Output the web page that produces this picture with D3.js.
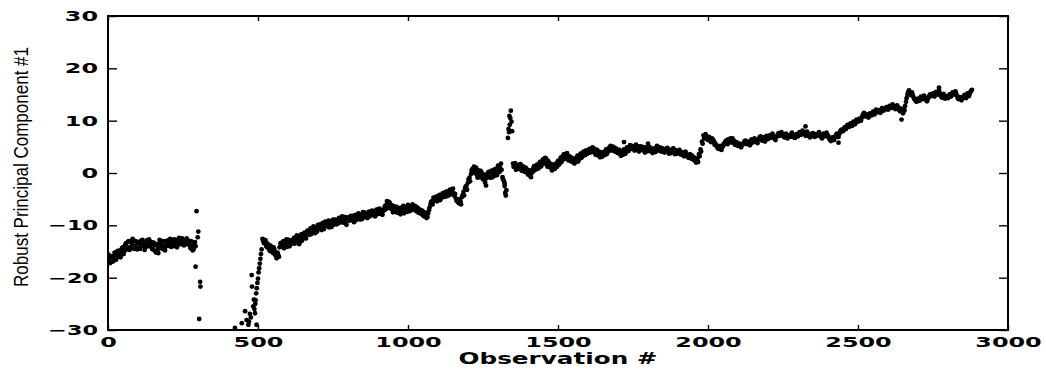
<!DOCTYPE html>
<html>
<head>
<meta charset="utf-8">
<script src="https://cdn.jsdelivr.net/npm/d3@7"></script>
<style>
  html, body { margin: 0; padding: 0; background: #fff; }
  svg { display: block; }
</style>
</head>
<body>
<script>
// observations are read every `step` along each continuous run of the band;
// a second pass is read at an offset of 2 to fill the band
const step = 5;
const segmentStarts = [0, 515, 1350];
const offsetStarts = [2, 517, 1352];

// prettier-ignore
const segmentA = [
  -16.8, -16.2, -17.0, -15.9, -16.4, -15.6, -15.2, -16.0, -14.8, -15.3,
  -14.2, -14.9, -13.4, -14.1, -13.0, -14.3, -13.6, -12.9, -14.0, -13.3,
  -14.4, -13.1, -13.8, -12.8, -13.6, -14.2, -12.9, -13.5, -14.0, -13.2,
  -14.6, -13.8, -15.2, -14.0, -13.5, -14.3, -13.0, -13.9, -14.8, -13.4,
  -12.9, -13.7, -14.1, -13.2, -12.7, -13.6, -14.2, -13.0, -12.6, -13.4,
  -12.9, -13.8, -13.1, -12.8, -13.6, -14.4, -13.9, -14.6, -13.2
];

// prettier-ignore
const segmentB = [
  -12.6, -13.4, -12.9, -14.2, -13.8, -14.9, -14.4, -15.3, -14.7, -15.8,
  -15.2, -16.0, -13.4, -14.1, -13.0, -13.8, -12.7, -13.5, -14.0, -12.9,
  -13.3, -12.4, -13.1, -11.9, -12.6, -13.2, -11.7, -12.2, -11.4, -12.5,
  -11.0, -11.8, -10.6, -11.3, -10.2, -11.5, -10.8, -9.9, -10.6, -10.1,
  -9.6, -10.7, -9.3, -10.0, -9.1, -9.8, -10.3, -8.9, -9.5, -9.0,
  -9.7, -8.6, -9.2, -8.3, -9.5, -8.8, -9.9, -8.5, -9.1, -8.2,
  -8.8, -9.4, -8.0, -8.6, -7.7, -8.9, -8.2, -7.5, -8.4, -7.9,
  -8.6, -7.4, -8.1, -7.2, -7.8, -8.3, -7.0, -7.6, -6.8, -7.4,
  -8.0, -7.1, -6.2, -5.4, -6.6, -5.8, -6.9, -7.5, -6.4, -7.0,
  -7.6, -6.7, -7.9, -7.2, -6.3, -7.4, -6.8, -6.1, -7.3, -6.6,
  -6.0, -6.9, -6.4, -7.1, -7.6, -7.0, -7.9, -7.4, -8.3, -7.8,
  -8.4, -7.1, -6.0, -5.4, -4.7, -5.3, -4.5, -5.0, -4.2, -4.8,
  -3.9, -4.6, -4.1, -3.5, -4.3, -3.2, -3.8, -3.0, -4.4, -4.9,
  -5.2, -5.8, -5.4, -4.6, -3.6, -3.0, -2.4, -1.8, -0.9, -0.2,
  0.8, 1.2, 0.3, -0.4, 0.5, -0.8, 0.1, -1.2, -0.3, -2.4,
  -0.6, 0.2, -0.9, -0.1, 0.6, -0.5, 0.3, 1.4, 0.2, 1.8,
  -0.8, -1.6
];

// prettier-ignore
const segmentC = [
  1.8, 1.2, 0.6, 1.5, 0.9, 1.7, 0.4, 1.1, 0.2, 0.8,
  -0.3, 0.5, -0.8, 0.2, 1.3, 0.7, 1.6, 0.9, 2.1, 1.4,
  2.6, 1.9, 2.8, 1.2, 2.0, 1.0, 0.5, 1.6, 0.8, 1.9,
  2.3, 1.7, 3.0, 2.5, 3.6, 2.9, 3.8, 2.4, 3.1, 2.2,
  2.7, 1.8, 2.5, 3.3, 2.6, 3.7, 3.0, 4.1, 3.4, 4.3,
  3.8, 4.6, 4.0, 4.9, 4.2, 3.5, 4.4, 3.7, 3.0, 3.6,
  4.0, 3.4, 4.5, 3.9, 4.8, 5.2, 4.3, 5.0, 4.1, 4.6,
  3.8, 4.4, 3.3, 3.9, 4.5, 3.7, 4.9, 4.2, 5.3, 4.6,
  5.0, 4.3, 5.4, 4.7, 4.1, 5.1, 4.4, 4.8, 3.9, 4.6,
  4.2, 5.0, 4.5, 3.8, 4.7, 4.0, 5.2, 4.3, 4.9, 4.1,
  4.6, 3.9, 4.4, 4.8, 3.7, 4.3, 4.0, 4.7, 3.6, 4.2,
  3.8, 4.4, 3.5, 3.9, 3.2, 4.1, 3.4, 2.9, 3.6, 2.7,
  3.1, 2.4, 2.0, 2.8, 3.6, 4.5, 6.0, 7.2, 6.6, 7.0,
  6.3, 6.8, 5.9, 6.5, 6.1, 5.6, 5.0, 4.6, 5.2, 4.4,
  5.1, 5.7, 6.2, 5.5, 6.0, 6.6, 5.8, 6.3, 5.4, 5.9,
  5.2, 5.6, 4.9, 5.4, 5.8, 6.2, 5.5, 6.0, 5.3, 6.4,
  5.9, 6.6, 6.1, 5.7, 6.5, 7.0, 6.2, 6.8, 6.0, 7.1,
  6.5, 7.2, 6.7, 7.5, 6.9, 6.3, 7.0, 7.6, 7.1, 7.8,
  7.3, 6.8, 7.5, 6.6, 7.2, 6.9, 7.7, 7.1, 6.7, 7.4,
  7.0, 7.8, 7.3, 8.1, 7.6, 7.1, 7.9, 7.4, 6.8, 7.2,
  7.6, 6.9, 7.4, 7.1, 7.8, 7.2, 6.6, 7.5, 7.0, 7.7,
  7.2, 6.5, 6.1, 6.8, 6.3, 7.0, 7.5, 6.9, 7.8, 8.3,
  8.0, 8.7, 8.4, 9.2, 8.8, 9.5, 9.0, 9.8, 9.3, 10.2,
  9.8, 10.4, 10.0, 10.9, 11.5, 10.8, 11.2, 10.6, 11.4, 11.0,
  11.7, 11.2, 12.1, 11.6, 12.0, 11.5, 12.4, 11.9, 12.2, 12.6,
  12.1, 12.8, 12.4, 13.1, 12.6, 12.2, 12.9, 12.5, 11.8, 12.3,
  11.4, 12.0, 13.6, 15.0, 15.8, 14.9, 15.4, 14.5, 14.0, 13.6,
  14.2, 13.8, 14.6, 14.1, 14.8, 14.3, 13.7, 14.4, 15.0, 14.7,
  15.2, 14.6, 15.5, 15.0, 15.8, 14.9, 14.4, 15.1, 14.2, 14.7,
  14.3, 15.0, 14.6, 15.4, 15.0, 15.6, 14.8, 14.1, 14.5, 13.9,
  14.4, 14.9, 14.3, 15.2, 14.7, 15.5, 15.9
];

// prettier-ignore
const offsetA = [
  -15.6, -17.2, -16.0, -16.9, -15.2, -16.6, -14.9, -15.4, -16.1, -14.3,
  -15.5, -13.8, -14.6, -13.1, -14.7, -13.2, -12.6, -14.5, -13.0, -14.6,
  -13.5, -14.5, -12.9, -13.9, -14.7, -13.3, -14.0, -12.7, -13.6, -14.5,
  -13.3, -14.9, -13.6, -14.5, -12.8, -13.8, -14.5, -13.0, -14.1, -13.0,
  -13.9, -12.6, -13.4, -14.0, -13.5, -12.8, -13.7, -12.4, -13.6, -12.5,
  -13.8, -12.9, -12.5, -13.5, -13.9, -13.0, -14.8, -13.7, -14.0
];

// prettier-ignore
const offsetB = [
  -13.0, -12.8, -13.9, -13.5, -14.6, -13.9, -15.0, -14.2, -15.6, -16.3,
  -15.6, -14.2, -13.8, -13.2, -14.4, -13.1, -14.1, -12.8, -13.6, -13.5,
  -12.8, -13.5, -12.2, -12.8, -13.6, -12.1, -12.9, -11.8, -12.0, -11.6,
  -11.6, -10.9, -11.7, -10.5, -11.0, -10.4, -11.2, -10.5, -9.8, -10.9,
  -10.2, -9.4, -10.1, -9.5, -10.4, -9.2, -9.4, -9.9, -8.9, -9.8,
  -8.9, -9.5, -8.7, -9.1, -8.4, -9.6, -8.5, -9.0, -8.4, -9.0,
  -8.2, -8.7, -9.0, -8.1, -8.5, -8.0, -8.8, -8.3, -7.6, -8.5,
  -7.9, -8.3, -7.5, -8.0, -7.3, -7.5, -7.9, -6.9, -7.8, -7.1,
  -7.3, -6.5, -6.9, -6.0, -5.5, -6.8, -6.2, -6.6, -7.4, -6.5,
  -7.0, -7.4, -6.6, -6.9, -7.7, -6.6, -7.4, -7.0, -6.4, -7.1,
  -6.6, -6.3, -7.3, -6.6, -7.2, -7.7, -7.2, -8.2, -7.6, -8.6,
  -7.7, -6.6, -5.5, -6.0, -5.1, -4.6, -5.4, -4.4, -5.2, -4.3,
  -4.4, -3.7, -4.5, -4.2, -3.6, -4.1, -3.2, -3.9, -4.0, -5.3,
  -5.6, -5.0, -6.0, -4.2, -4.3, -2.6, -3.2, -1.2, -1.6, 0.5,
  0.4, 0.0, 1.0, -0.9, -0.2, 0.4, -0.7, -0.4, -1.8, -1.0,
  0.1, -0.7, 0.4, -0.8, 0.0, 0.8, -0.4, 0.7, 1.0, 0.6,
  -1.2, -2.0
];

// prettier-ignore
const offsetC = [
  1.2, 1.9, 0.9, 0.8, 1.6, 0.6, 1.3, 0.5, 1.0, 0.1,
  0.4, -0.5, 0.0, 0.8, 0.5, 1.4, 0.8, 1.8, 1.2, 2.2,
  2.0, 2.9, 1.6, 2.3, 1.3, 1.7, 1.2, 0.9, 1.5, 1.2,
  1.6, 2.6, 2.1, 3.3, 2.7, 3.4, 2.8, 3.2, 2.3, 2.9,
  2.0, 2.6, 3.0, 2.2, 3.2, 2.9, 3.6, 3.5, 4.2, 3.7,
  4.3, 3.9, 4.6, 4.0, 4.6, 4.2, 3.4, 4.1, 3.4, 3.1,
  3.6, 4.1, 3.6, 4.4, 4.3, 4.6, 5.0, 4.4, 4.7, 3.9,
  4.1, 3.6, 4.1, 3.5, 4.1, 4.3, 4.4, 5.0, 4.7, 5.2,
  4.6, 5.0, 4.4, 5.1, 4.6, 4.6, 5.0, 4.2, 4.9, 4.2,
  4.7, 4.4, 4.0, 4.6, 4.3, 4.8, 4.6, 4.8, 4.2, 4.7,
  4.1, 4.5, 4.7, 4.1, 4.4, 3.8, 4.6, 4.1, 4.3, 3.7,
  4.2, 3.7, 4.0, 3.4, 3.8, 3.6, 3.1, 3.4, 2.9, 3.3,
  2.6, 2.9, 2.4, 2.1, 3.2, 4.1, 5.6, 6.7, 7.4, 6.5,
  6.9, 6.2, 6.6, 5.9, 5.4, 5.3, 4.8, 5.1, 4.7, 4.9,
  5.5, 5.9, 5.6, 6.4, 6.3, 6.0, 6.6, 5.7, 5.6, 5.3,
  5.5, 5.1, 5.3, 5.6, 6.1, 5.8, 5.9, 5.5, 6.1, 5.8,
  6.3, 6.1, 6.0, 6.3, 6.8, 6.6, 6.6, 6.4, 6.7, 6.7,
  6.9, 6.8, 7.2, 7.0, 6.6, 6.8, 7.3, 7.2, 7.6, 7.3,
  7.0, 7.3, 7.0, 7.0, 7.0, 7.4, 7.3, 6.8, 7.2, 7.2,
  7.5, 7.4, 7.8, 7.7, 7.4, 7.6, 7.6, 7.0, 7.1, 7.5,
  7.2, 7.2, 7.1, 7.5, 7.4, 6.9, 7.1, 7.2, 7.4, 7.3,
  6.8, 6.3, 6.5, 6.5, 6.7, 7.3, 7.1, 7.4, 8.1, 8.0,
  8.4, 8.5, 8.9, 8.9, 9.2, 9.2, 9.5, 9.5, 9.8, 9.9,
  10.1, 10.2, 10.5, 11.2, 11.1, 11.0, 10.9, 11.0, 11.2, 11.4,
  11.4, 11.7, 11.8, 11.8, 11.7, 12.0, 12.1, 12.1, 12.4, 12.3,
  12.5, 12.6, 12.8, 12.8, 12.4, 12.6, 12.7, 12.1, 12.0, 11.9,
  11.7, 12.8, 14.3, 15.4, 15.3, 15.2, 14.9, 14.2, 13.8, 13.9,
  14.0, 14.2, 14.3, 14.5, 14.5, 14.0, 14.1, 14.7, 14.8, 15.0,
  14.9, 15.1, 15.2, 15.4, 15.3, 14.6, 14.8, 14.6, 14.5, 14.5,
  14.7, 14.8, 15.0, 15.2, 15.3, 15.2, 14.4, 14.3, 14.2, 14.2,
  14.6, 14.6, 14.8, 14.9, 15.1, 15.7
];

// isolated observations off the band (spikes, the ramp back from below -30)
// prettier-ignore
const outlierObs = [
  292, 295, 299, 301, 304, 307, 308,
  423, 446, 457, 462, 468, 470, 473, 476, 479, 480, 484, 486, 488, 490,
  491, 492, 494, 495, 496, 498, 500, 502, 504, 506, 508, 510, 512,
  1322, 1324, 1326, 1328, 1333, 1335, 1337, 1338, 1339, 1341, 1343, 1345, 1347,
  168, 1720, 1800, 2325, 2435, 2645, 2770
];
// prettier-ignore
const outlierValues = [
  -17.9, -7.3, -12.3, -11.2, -27.9, -20.8, -21.7,
  -29.6, -28.7, -26.4, -28.1, -29.0, -28.4, -26.9, -27.6, -19.5, -21.7, -25.5, -24.2, -26.0, -26.8,
  -25.0, -24.3, -23.0, -29.0, -22.0, -21.0, -20.2, -19.0, -18.2, -17.3, -16.4, -15.5, -14.6,
  -2.5, -3.8, -4.3, -3.3, 6.7, 8.4, 7.8, 10.9, 9.2, 10.5, 11.9, 9.8, 8.0,
  -15.3, 5.9, 5.6, 8.9, 5.8, 10.2, 16.3
];

const xTicks = [0, 500, 1000, 1500, 2000, 2500, 3000];
const yTicks = [-30, -20, -10, 0, 10, 20, 30];
const xLabel = "Observation #";
const yLabel = "Robust Principal Component #1";

const runToPoints = (starts) => (values, s) =>
  values.map((value, i) => ({ obs: starts[s] + i * step, value }));

const points = [segmentA, segmentB, segmentC]
  .flatMap(runToPoints(segmentStarts))
  .concat([offsetA, offsetB, offsetC].flatMap(runToPoints(offsetStarts)))
  .concat(outlierObs.map((obs, i) => ({ obs, value: outlierValues[i] })));

const width = 1046;
const height = 369;
const margin = { top: 16, right: 38, bottom: 39, left: 108 };
const innerWidth = width - margin.left - margin.right;
const innerHeight = height - margin.top - margin.bottom;

const xScale = d3.scaleLinear().domain([0, 3000]).range([0, innerWidth]);
const yScale = d3.scaleLinear().domain([-30, 30]).range([innerHeight, 0]);

const tickFont = "'DejaVu Sans', sans-serif";
const charWidth = 16.6;

const svg = d3
  .select("body")
  .append("svg")
  .attr("width", width)
  .attr("height", height)
  .attr("viewBox", `0 0 ${width} ${height}`);

svg
  .append("defs")
  .append("clipPath")
  .attr("id", "plot-clip")
  .append("rect")
  .attr("width", innerWidth)
  .attr("height", innerHeight);

const group = svg
  .append("g")
  .attr("transform", `translate(${margin.left} ${margin.top})`);

group
  .append("g")
  .attr("clip-path", "url(#plot-clip)")
  .selectAll("circle")
  .data(points)
  .join("circle")
  .attr("cx", (d) => xScale(d.obs))
  .attr("cy", (d) => yScale(d.value))
  .attr("r", 2.4)
  .attr("fill", "#000");

const styleTicks = (g, withText) => {
  g.select(".domain").remove();
  g.selectAll(".tick line").attr("stroke", "#000").attr("stroke-width", 1.4);
  if (withText) {
    g.selectAll(".tick text")
      .attr("fill", "#000")
      .style("font-family", tickFont)
      .style("font-weight", "bold")
      .style("font-size", "14px")
      .attr("textLength", function () {
        return this.textContent.length * charWidth;
      })
      .attr("lengthAdjust", "spacingAndGlyphs");
  }
};

const tickFormat = d3.format("d");

group
  .append("g")
  .attr("class", "axis-x")
  .attr("transform", `translate(0 ${innerHeight})`)
  .call(
    d3
      .axisBottom(xScale)
      .tickValues(xTicks)
      .tickFormat(tickFormat)
      .tickSizeInner(-5)
      .tickSizeOuter(0)
      .tickPadding(7)
  )
  .call((g) => styleTicks(g, true));

group
  .append("g")
  .attr("class", "axis-x-top")
  .call(
    d3.axisTop(xScale).tickValues(xTicks).tickSizeInner(-5).tickSizeOuter(0).tickFormat("")
  )
  .call((g) => styleTicks(g, false));

group
  .append("g")
  .attr("class", "axis-y")
  .call(
    d3
      .axisLeft(yScale)
      .tickValues(yTicks)
      .tickFormat(tickFormat)
      .tickSizeInner(-9)
      .tickSizeOuter(0)
      .tickPadding(10)
  )
  .call((g) => styleTicks(g, true));

group
  .append("g")
  .attr("class", "axis-y-right")
  .attr("transform", `translate(${innerWidth} 0)`)
  .call(
    d3.axisRight(yScale).tickValues(yTicks).tickSizeInner(-9).tickSizeOuter(0).tickFormat("")
  )
  .call((g) => styleTicks(g, false));

group
  .append("rect")
  .attr("width", innerWidth)
  .attr("height", innerHeight)
  .attr("fill", "none")
  .attr("stroke", "#000")
  .attr("stroke-width", 2);

svg
  .append("text")
  .attr("x", margin.left + innerWidth / 2)
  .attr("y", 364)
  .attr("text-anchor", "middle")
  .attr("textLength", 199)
  .attr("lengthAdjust", "spacingAndGlyphs")
  .style("font-family", tickFont)
  .style("font-weight", "bold")
  .style("font-size", "15px")
  .text(xLabel);

svg
  .append("text")
  .attr("transform", "translate(28 167) rotate(-90)")
  .attr("text-anchor", "middle")
  .attr("textLength", 240)
  .attr("lengthAdjust", "spacingAndGlyphs")
  .style("font-family", "'Liberation Sans Narrow', 'Liberation Sans', sans-serif")
  .style("font-size", "21px")
  .text(yLabel);
</script>
</body>
</html>
